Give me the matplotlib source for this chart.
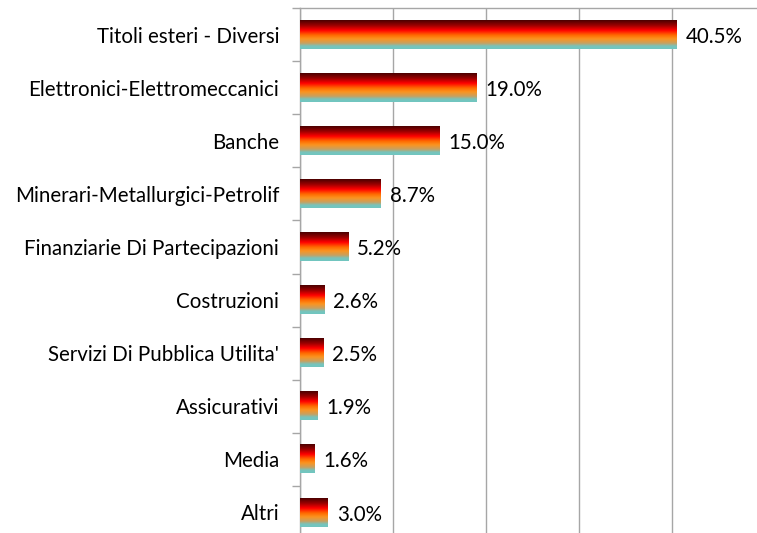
import matplotlib
matplotlib.use("Agg")
import matplotlib.pyplot as plt
import numpy as np
from matplotlib.colors import LinearSegmentedColormap

categories = ["Titoli esteri - Diversi", "Elettronici-Elettromeccanici", "Banche",
              "Minerari-Metallurgici-Petrolif", "Finanziarie Di Partecipazioni",
              "Costruzioni", "Servizi Di Pubblica Utilita'", "Assicurativi",
              "Media", "Altri"]
values = [40.5, 19.0, 15.0, 8.7, 5.2, 2.6, 2.5, 1.9, 1.6, 3.0]
value_labels = ["40.5%", "19.0%", "15.0%", "8.7%", "5.2%", "2.6%", "2.5%", "1.9%", "1.6%", "3.0%"]

plt.rcParams['font.family'] = ['Lato', 'DejaVu Sans']

W, H = 757, 533
fig = plt.figure(figsize=(W / 100, H / 100), dpi=100)
ax_left, ax_right, ax_top, ax_bot = 300, 757, 8, 539
ax = fig.add_axes([ax_left / W, 1 - ax_bot / H, (ax_right - ax_left) / W, (ax_bot - ax_top) / H])

n = len(categories)
ypos = np.arange(n)
bar_h = 0.53
bars = ax.barh(ypos, values, height=bar_h, color='none', edgecolor='none')

cmap = LinearSegmentedColormap.from_list("grad", [
    (0.0, "#4a0000"),
    (0.18, "#9a0000"),
    (0.35, "#ff0000"),
    (0.52, "#ff6a00"),
    (0.65, "#fb9420"),
    (0.80, "#c8a060"),
    (0.90, "#78c4bc"),
    (1.0, "#70c6c0"),
])
grad = np.linspace(0, 1, 256).reshape(-1, 1)

for rect, v in zip(bars.patches, values):
    y0 = rect.get_y()
    h = rect.get_height()
    ax.imshow(grad, cmap=cmap, aspect='auto', origin='upper',
              extent=(0, v, y0 + h, y0), zorder=3, interpolation='bilinear')

ax.set_xlim(0, (ax_right - ax_left) / 9.3)
ax.set_ylim(n - 0.5, -0.5)

for y, v, lab in zip(ypos, values, value_labels):
    ax.text(v + 0.95, y + 0.04, lab, va='center', ha='left', fontsize=14.8, color='#000000', zorder=4)

ax.set_xticks(np.arange(0, 50, 10))
ax.xaxis.grid(True, color='#a6a6a6', linewidth=1.0)
ax.set_axisbelow(True)
ax.tick_params(axis='x', which='both', length=0, labelbottom=False, labeltop=False)

ax.set_yticks(ypos)
ax.set_yticklabels(categories, fontsize=14.8)
ax.tick_params(axis='y', which='major', length=0, pad=15)
ax.set_yticks(np.arange(-0.5, n, 1.0), minor=True)
ax.tick_params(axis='y', which='minor', length=6, width=1, color='#a6a6a6', direction='out')

for s in ['right', 'bottom']:
    ax.spines[s].set_visible(False)
for s in ['left', 'top']:
    ax.spines[s].set_color('#a6a6a6')
    ax.spines[s].set_linewidth(1.0)

fig.savefig("out.png", dpi=100)
